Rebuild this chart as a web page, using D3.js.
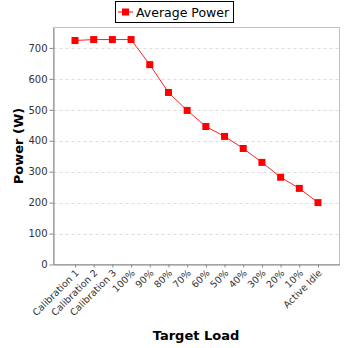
<!DOCTYPE html>
<html><head><meta charset="utf-8">
<script src="https://cdn.jsdelivr.net/npm/d3@7"></script>
<style>body{margin:0;background:#fff}svg{display:block}text{font-family:"DejaVu Sans",sans-serif}</style>
</head><body><svg id="c" width="348" height="348"></svg>
<script>
const categories = ["Calibration 1","Calibration 2","Calibration 3","100%","90%","80%","70%","60%","50%","40%","30%","20%","10%","Active Idle"];
const power = [724,727,727,727,646,556,498,446,414,375,330,282,246,200];
const yTicks = [0,100,200,300,400,500,600,700];
const seriesName = "Average Power";

const svg = d3.select("#c");
const L = 53.5, R = 339.5, T = 27.5, B = 264.5;
const x = d3.scalePoint().domain(categories).range([L, R]).padding(1.15);
const y = d3.scaleLinear().domain([0, 766]).range([B, T]);

// plot outline
svg.append("rect").attr("x", L).attr("y", T).attr("width", R - L).attr("height", B - T)
  .attr("fill", "#fff").attr("stroke", "#c0c0c0").attr("stroke-width", 1);

// gridlines
svg.append("g").selectAll("line").data(yTicks.filter(d => d > 0)).join("line")
  .attr("x1", L).attr("x2", R)
  .attr("y1", d => Math.round(y(d)) + 0.5).attr("y2", d => Math.round(y(d)) + 0.5)
  .attr("stroke", "#dcdcdc").attr("stroke-dasharray", "3,3");

// y axis
const ya = svg.append("g").attr("transform", `translate(${L},0)`)
  .call(d3.axisLeft(y).tickValues(yTicks).tickSize(4).tickPadding(2).tickSizeOuter(0));
ya.select(".domain").attr("stroke", "#888");
ya.selectAll(".tick line").attr("stroke", "#888");
ya.selectAll(".tick text").attr("font-size", 10).attr("fill", "#333").attr("font-family", "DejaVu Sans");

// x axis
const xa = svg.append("g").attr("transform", `translate(0,${B})`)
  .call(d3.axisBottom(x).tickSize(3).tickSizeOuter(0));
xa.select(".domain").attr("stroke", "#888");
xa.selectAll(".tick line").attr("stroke", "#888");
xa.selectAll(".tick text").attr("font-size", 9.5).attr("fill", "#333").attr("font-family", "DejaVu Sans")
  .attr("text-anchor", "end").attr("dy", null).attr("y", 0)
  .attr("transform", "translate(4,9) rotate(-45)");

// line
const line = d3.line().x((d, i) => x(categories[i])).y(d => y(d));
svg.append("path").datum(power).attr("d", line).attr("fill", "none")
  .attr("stroke", "#ff2020").attr("stroke-width", 1);
svg.append("g").selectAll("rect").data(power).join("rect")
  .attr("x", (d, i) => x(categories[i]) - 3.5).attr("y", d => y(d) - 3.5)
  .attr("width", 7).attr("height", 7).attr("fill", "#ff0000");

// axis titles
svg.append("text").attr("x", 196).attr("y", 340).attr("text-anchor", "middle")
  .attr("font-size", 13).attr("font-weight", "bold").text("Target Load");
svg.append("text").attr("transform", "translate(23,146) rotate(-90)").attr("text-anchor", "middle")
  .attr("font-size", 13).attr("font-weight", "bold").text("Power (W)");

// legend
const lg = svg.append("g");
lg.append("rect").attr("x", 115.5).attr("y", 1.5).attr("width", 118).attr("height", 21)
  .attr("fill", "#fff").attr("stroke", "#000");
lg.append("line").attr("x1", 118).attr("x2", 133).attr("y1", 12).attr("y2", 12).attr("stroke", "#ff0000");
lg.append("rect").attr("x", 122).attr("y", 8.5).attr("width", 7).attr("height", 7).attr("fill", "#ff0000");
lg.append("text").attr("x", 136).attr("y", 17).attr("font-size", 12.5).attr("fill", "#000").text(seriesName);
</script></body></html>
